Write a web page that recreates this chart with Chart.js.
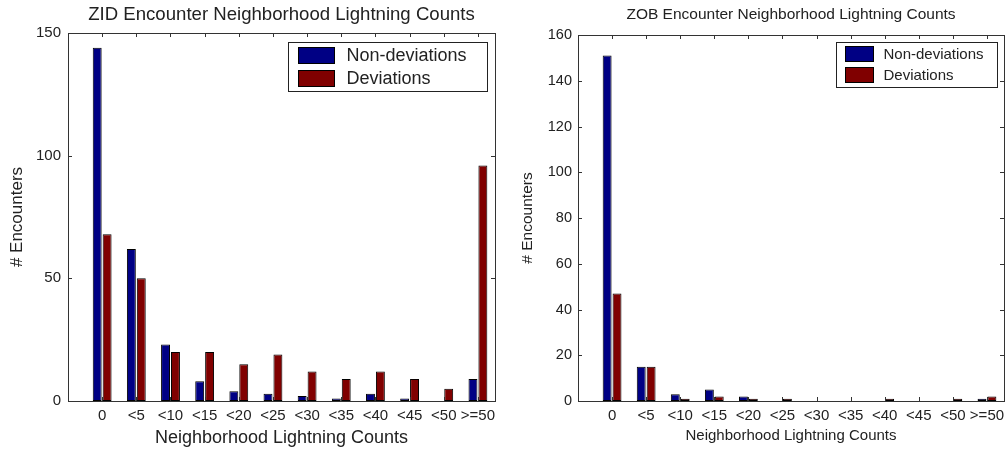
<!DOCTYPE html>
<html>
<head>
<meta charset="utf-8">
<script src="https://cdn.jsdelivr.net/npm/chart.js@4.4.0/dist/chart.umd.min.js"></script>
<style>
  html, body { margin: 0; padding: 0; background: #fff; }
  .wrap { position: absolute; top: 0; width: 500px; height: 452px; }
</style>
</head>
<body>
<div class="wrap" style="left:0px"><canvas id="zid" width="500" height="452"></canvas></div>
<div class="wrap" style="left:506px"><canvas id="zob" width="500" height="452"></canvas></div>
<script>
// bins of neighborhood lightning counts
const categories = ['0', '<5', '<10', '<15', '<20', '<25', '<30', '<35', '<40', '<45', '<50', '>=50'];
const seriesNames = ['Non-deviations', 'Deviations'];

// ZID center
const zidNonDev = [144, 62, 23, 8, 4, 3, 2, 1, 3, 1, 0, 9];
const zidDev = [68, 50, 20, 20, 15, 19, 12, 9, 12, 9, 5, 96];
const zidYTicks = [0, 50, 100, 150];

// ZOB center
const zobNonDev = [151, 15, 3, 5, 2, 0, 0, 0, 0, 0, 0, 1];
const zobDev = [47, 15, 1, 2, 1, 1, 0, 0, 1, 0, 1, 2];
const zobYTicks = [0, 20, 40, 60, 80, 100, 120, 140, 160];

const FONT = "'Liberation Sans', Arial, sans-serif";
const BLUE = 'rgb(0,0,132)';
const RED = 'rgb(128,0,0)';

// matlab style box + inward ticks + boxed legend
const matlabBox = {
  id: 'matlabBox',
  afterDraw(chart, args, o) {
    const ctx = chart.ctx;
    const a = chart.chartArea;
    const x = chart.scales.x, y = chart.scales.y;
    ctx.save();
    ctx.strokeStyle = '#333';
    ctx.lineWidth = 1;
    ctx.strokeRect(Math.round(a.left) + 0.5, Math.round(a.top) + 0.5,
      Math.round(a.right - a.left), Math.round(a.bottom - a.top));
    ctx.beginPath();
    x.ticks.forEach(t => {
      const px = Math.round(x.getPixelForValue(t.value)) + 0.5;
      ctx.moveTo(px, a.bottom); ctx.lineTo(px, a.bottom - 4);
      ctx.moveTo(px, a.top); ctx.lineTo(px, a.top + 4);
    });
    y.ticks.forEach(t => {
      const py = Math.round(y.getPixelForValue(t.value)) + 0.5;
      ctx.moveTo(a.left, py); ctx.lineTo(a.left + 4, py);
      ctx.moveTo(a.right, py); ctx.lineTo(a.right - 4, py);
    });
    ctx.stroke();

    // legend
    const L = o.legend;
    const bx = Math.round(a.right - L.dx - L.w) + 0.5;
    const by = Math.round(a.top + L.dy) + 0.5;
    ctx.fillStyle = '#fff';
    ctx.fillRect(bx, by, L.w, L.h);
    ctx.strokeStyle = '#222';
    ctx.strokeRect(bx, by, L.w, L.h);
    ctx.font = L.font + 'px ' + FONT;
    ctx.textBaseline = 'middle';
    chart.data.datasets.forEach((ds, i) => {
      const py = by + L.rows[i];
      ctx.fillStyle = ds.backgroundColor;
      ctx.fillRect(bx + L.px, py, L.pw, L.ph);
      ctx.strokeStyle = '#000';
      ctx.strokeRect(bx + L.px, py, L.pw, L.ph);
      ctx.fillStyle = '#222';
      ctx.fillText(ds.label, bx + L.tx, py + L.ph / 2 + 1);
    });
    ctx.restore();
  }
};

function makeChart(id, title, nonDev, dev, yTicks, s) {
  const positions = categories.map((c, i) => i + 1);
  return new Chart(document.getElementById(id), {
    type: 'bar',
    data: {
      labels: positions,
      datasets: [
        { label: seriesNames[0], data: nonDev, backgroundColor: BLUE, borderColor: '#000', borderWidth: 1 },
        { label: seriesNames[1], data: dev, backgroundColor: RED, borderColor: '#000', borderWidth: 1 }
      ]
    },
    options: {
      responsive: false,
      animation: false,
      layout: { padding: { left: 0, right: s.padRight, top: 0, bottom: 0 } },
      datasets: { bar: { categoryPercentage: 0.58, barPercentage: 0.9, borderSkipped: false } },
      plugins: {
        legend: { display: false },
        tooltip: { enabled: false },
        title: {
          display: true, text: title, color: '#222', fullSize: false,
          font: { family: FONT, size: s.title, weight: 'normal' },
          padding: s.titlePad
        },
        matlabBox: { legend: s.legend }
      },
      scales: {
        x: {
          type: 'linear', min: 0, max: 12.5, offset: false,
          afterBuildTicks: sc => { sc.ticks = positions.map(v => ({ value: v })); },
          afterFit: sc => { sc.height = 51; },
          grid: { display: false },
          border: { display: false },
          ticks: {
            color: '#222', padding: -2, maxRotation: 0, autoSkip: false,
            font: { family: FONT, size: s.tick },
            callback: v => categories[v - 1]
          },
          title: {
            display: true, text: 'Neighborhood Lightning Counts', color: '#222',
            font: { family: FONT, size: s.xTitle }, padding: { top: 0, bottom: s.xTitlePad }
          }
        },
        y: {
          min: yTicks[0], max: yTicks[yTicks.length - 1],
          afterBuildTicks: sc => { sc.ticks = yTicks.map(v => ({ value: v })); },
          afterFit: sc => { sc.width = s.yAxisW; },
          grid: { display: false, drawTicks: false },
          border: { display: false },
          ticks: { color: '#222', padding: s.yTickPad, font: { family: FONT, size: s.ytick } },
          title: {
            display: true, text: '# Encounters', color: '#222',
            font: { family: FONT, size: s.yTitle }, padding: { top: s.yTitlePad, bottom: 0 }
          }
        }
      }
    },
    plugins: [matlabBox]
  });
}

makeChart('zid', 'ZID Encounter Neighborhood Lightning Counts', zidNonDev, zidDev, zidYTicks, {
  padRight: 5, title: 18.6, titlePad: { top: 4, bottom: 6.7 },
  tick: 15, ytick: 15, yTickPad: 7, xTitle: 18, xTitlePad: 3.2, yTitle: 17, yTitlePad: 6.8, yAxisW: 68,
  legend: { w: 199, h: 49, dx: 8, dy: 9, px: 10, pw: 36, ph: 16, rows: [5, 28], tx: 58, font: 18 }
});

makeChart('zob', 'ZOB Encounter Neighborhood Lightning Counts', zobNonDev, zobDev, zobYTicks, {
  padRight: 2, title: 15.5, titlePad: { top: 5.7, bottom: 10.7 },
  tick: 15, ytick: 14.5, yTickPad: 6, xTitle: 15, xTitlePad: 7, yTitle: 15.5, yTitlePad: 12.7, yAxisW: 72,
  legend: { w: 161, h: 45, dx: 7, dy: 7, px: 9, pw: 28, ph: 15, rows: [4, 25], tx: 47, font: 15 }
});
</script>
</body>
</html>
